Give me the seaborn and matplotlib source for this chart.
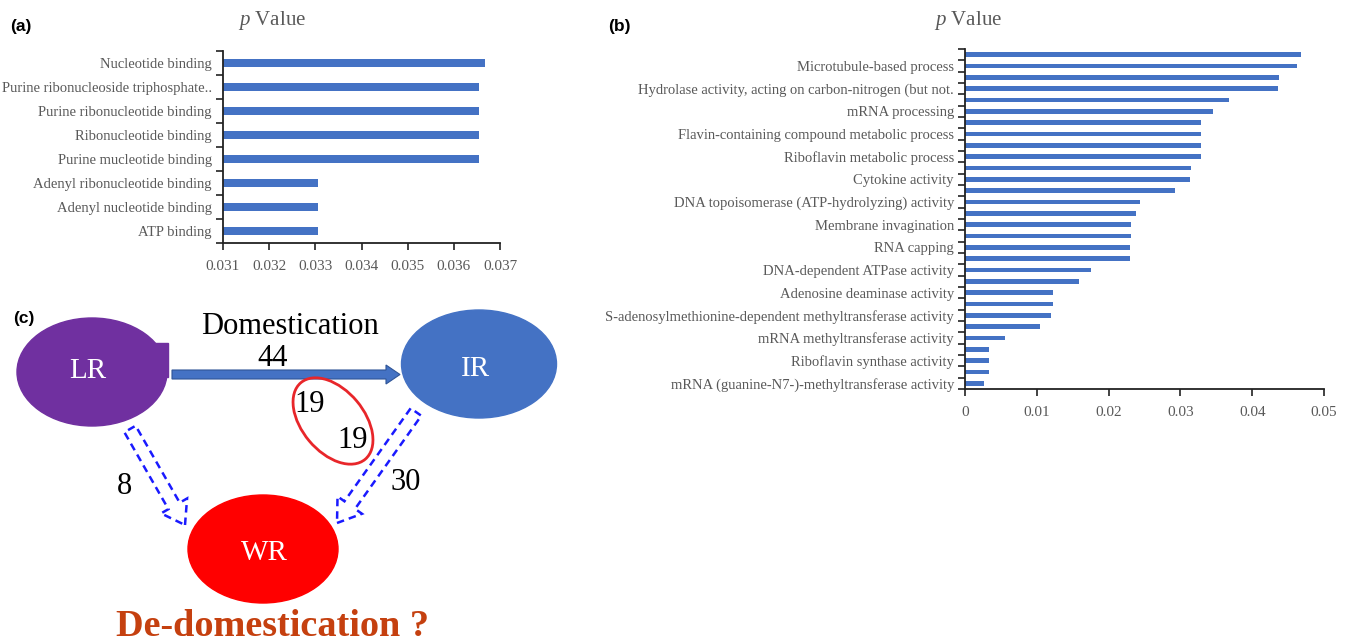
import numpy as np
import pandas as pd
import matplotlib.pyplot as plt
from matplotlib.patches import Ellipse, FancyArrow, Rectangle
import seaborn as sns

# ---- data ----
terms_a = ['Nucleotide binding', 'Purine ribonucleoside triphosphate..',
           'Purine ribonucleotide binding', 'Ribonucleotide binding',
           'Purine mucleotide binding', 'Adenyl ribonucleotide binding',
           'Adenyl nucleotide binding', 'ATP binding']
pvals_a = [0.03667, 0.03655, 0.03655, 0.03655, 0.03655, 0.03305, 0.03305, 0.03305]
xticks_a = [0.031, 0.032, 0.033, 0.034, 0.035, 0.036, 0.037]

# only every second term is labelled in the original figure
terms_b = ['', 'Microtubule-based process',
           '', 'Hydrolase activity, acting on carbon-nitrogen (but not.',
           '', 'mRNA processing',
           '', 'Flavin-containing compound metabolic process',
           '', 'Riboflavin metabolic process',
           '', 'Cytokine activity',
           '', 'DNA topoisomerase (ATP-hydrolyzing) activity',
           '', 'Membrane invagination',
           '', 'RNA capping',
           '', 'DNA-dependent ATPase activity',
           '', 'Adenosine deaminase activity',
           '', 'S-adenosylmethionine-dependent methyltransferase activity',
           '', 'mRNA methyltransferase activity',
           '', 'Riboflavin synthase activity',
           '', 'mRNA (guanine-N7-)-methyltransferase activity']
pvals_b = [0.0468, 0.0463, 0.0437, 0.0436, 0.0367, 0.0346, 0.0329, 0.0329,
           0.0329, 0.0329, 0.0315, 0.0313, 0.0292, 0.0244, 0.0238, 0.0231,
           0.0231, 0.0230, 0.0230, 0.0175, 0.0159, 0.0122, 0.0122, 0.0120,
           0.0105, 0.0056, 0.0034, 0.0034, 0.0034, 0.0026]
xticks_b = [0, 0.01, 0.02, 0.03, 0.04, 0.05]

# panel (c) counts
n_domestication = 44
n_shared = [19, 19]
n_lr_wr = 8
n_ir_wr = 30

BLUE = '#4472C4'
GREY = '#595959'

sns.set_style('white')
plt.rcParams['font.family'] = ['Liberation Serif', 'DejaVu Serif']
plt.rcParams['text.color'] = 'black'
plt.rcParams['mathtext.fontset'] = 'custom'
plt.rcParams['mathtext.it'] = 'Liberation Serif:italic'
plt.rcParams['mathtext.rm'] = 'Liberation Serif'

W, H = 1350, 642
fig = plt.figure(figsize=(W / 100, H / 100), dpi=100)


def px_axes(left, top, right, bottom):
    return fig.add_axes([left / W, 1 - bottom / H, (right - left) / W, (bottom - top) / H])


def style_bar_axes(ax, n, labels, xticks, xfmt):
    for s in ['top', 'right']:
        ax.spines[s].set_visible(False)
    for s in ['left', 'bottom']:
        ax.spines[s].set_color('#222222')
        ax.spines[s].set_linewidth(1.3)
    ax.set_yticks(range(n))
    ax.set_yticklabels(labels, color=GREY, fontsize=10.5)
    ax.set_yticks(np.arange(-0.5, n), minor=True)
    ax.tick_params(axis='y', which='major', length=0, pad=8)
    ax.tick_params(axis='y', which='minor', length=5, width=1.2, color='#222222', direction='out', left=True)
    ax.set_xticks(xticks)
    ax.set_xticklabels([xfmt(v) for v in xticks], color=GREY, fontsize=11)
    ax.tick_params(axis='x', length=5, width=1.2, color='#222222', direction='out', bottom=True, pad=7)
    ax.set_xlabel('')
    ax.set_ylabel('')


# ---- panel (a) ----
ax_a = px_axes(223, 51, 500, 243)
df_a = pd.DataFrame({'idx': range(len(terms_a)), 'p': pvals_a})
sns.barplot(data=df_a, x='p', y='idx', orient='h', color=BLUE, saturation=1,
            width=0.35, linewidth=0, ax=ax_a)
ax_a.set_xlim(0.031, 0.037)
style_bar_axes(ax_a, len(terms_a), terms_a, xticks_a, lambda v: f'{v:.3f}')

# ---- panel (b) ----
ax_b = px_axes(965, 49, 1324, 389)
df_b = pd.DataFrame({'idx': range(len(terms_b)), 'p': pvals_b})
sns.barplot(data=df_b, x='p', y='idx', orient='h', color=BLUE, saturation=1,
            width=0.4, linewidth=0, ax=ax_b)
ax_b.set_xlim(0, 0.05)
style_bar_axes(ax_b, len(terms_b), terms_b, xticks_b,
               lambda v: '0' if v == 0 else f'{v:g}')

# titles sit off-centre in the original
fig.text(272 / W, 1 - 20 / H, r'$p$ Value', color=GREY, fontsize=15, ha='center', va='center')
fig.text(968 / W, 1 - 20 / H, r'$p$ Value', color=GREY, fontsize=15, ha='center', va='center')

fig.text(10 / W, 1 - 27 / H, '(a)', family='Liberation Sans', weight='bold', fontsize=12.5, va='center')
fig.text(608 / W, 1 - 27 / H, '(b)', family='Liberation Sans', weight='bold', fontsize=12.5, va='center')

# ---- panel (c): schematic ----
ax_c = fig.add_axes([0, 0, 1, 1])
ax_c.set_xlim(0, W)
ax_c.set_ylim(H, 0)
ax_c.axis('off')

ax_c.text(24, 318, '(c)', family='Liberation Sans', weight='bold', fontsize=12.5, ha='center', va='center')

PURPLE = '#7030A0'
ax_c.add_patch(Ellipse((92, 372), 150, 108, color=PURPLE))
ax_c.add_patch(Rectangle((152, 343), 16, 34, color=PURPLE))
ax_c.add_patch(Ellipse((479, 364), 155, 108, color=BLUE))
ax_c.add_patch(Ellipse((263, 549), 150, 108, color='#FF0000'))

node_font = dict(color='white', fontsize=21, ha='center', va='center')
ax_c.text(88, 371, 'LR', **node_font)
ax_c.text(475, 369, 'IR', **node_font)
ax_c.text(264, 553, 'WR', **node_font)

ax_c.add_patch(FancyArrow(172, 374.5, 228, 0, width=9, head_width=19, head_length=14,
                          length_includes_head=True, color=BLUE, ec='#2F5597', lw=0.8))
ax_c.text(290, 327, 'Domestication', fontsize=22, ha='center', va='center')
ax_c.text(273, 358, str(n_domestication), fontsize=22, ha='center', va='center')

ax_c.add_patch(Ellipse((333, 421), 100, 62, angle=50, fill=False, ec='#E8262A', lw=2))
ax_c.text(310, 405, str(n_shared[0]), fontsize=22, ha='center', va='center')
ax_c.text(353, 441, str(n_shared[1]), fontsize=22, ha='center', va='center')

dash_kw = dict(width=13, head_width=30, head_length=22, length_includes_head=True,
               fill=False, ec='#1A1AFF', lw=1.8, ls=(0, (3, 2)))
ax_c.add_patch(FancyArrow(130, 429, 55, 96, **dash_kw))
ax_c.add_patch(FancyArrow(416, 412, -79, 111, **dash_kw))
ax_c.text(125, 487, str(n_lr_wr), fontsize=22, ha='center', va='center')
ax_c.text(406, 483, str(n_ir_wr), fontsize=22, ha='center', va='center')

ax_c.text(273, 626, 'De-domestication ?', fontsize=27.5, weight='bold', color='#C5400F',
          ha='center', va='center')

fig.savefig('out.png', dpi=100)
